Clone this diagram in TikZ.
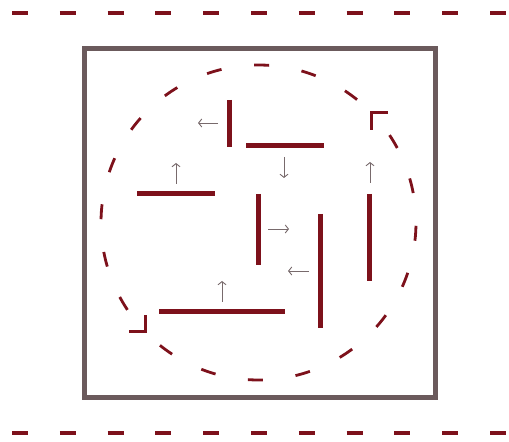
\documentclass[tikz,border=0pt]{standalone}
\usetikzlibrary{arrows.meta,calc}
\definecolor{wallred}{RGB}{125,17,27}
\definecolor{boxgray}{RGB}{107,90,92}
\definecolor{arrgray}{RGB}{120,106,108}
\begin{document}
\begin{tikzpicture}[x=1pt,y=1pt,
  wall/.style={draw=wallred,line width=5pt},
  border/.style={draw=wallred,line width=4.6pt,dash pattern=on 16pt off 31.8pt},
  circdash/.style={draw=wallred,line width=2.8pt},
  corner/.style={draw=wallred,line width=3pt,miter limit=10},
  flow/.style={draw=arrgray,line width=0.9pt,-{Straight Barb[length=3.2pt,width=8pt,line width=0.9pt]}},
  frame/.style={draw=boxgray,line width=5pt}]
\useasboundingbox (0,0) rectangle (509,442);
% dashed boundary lines
\draw[border] (12,429) -- (507,429);
\draw[border] (12,9) -- (507,9);
% frame
\draw[frame] (84.5,44) rectangle (435,393.5);
% dashed circle
\coordinate (c) at (258.5,219.5);
\foreach \a in {-126,-108.56,-91.12,-73.68,-56.24,-38.8,-21.36,-3.92,13.52,30.96,
                54,71.44,88.88,106.32,123.76,141.2,158.64,176.08,193.52,210.96}{
  \draw[circdash] ($(c)+(\a-2.73:157.5)$) arc[start angle=\a-2.73,end angle=\a+2.73,radius=157.5];
}
% arrow-corner marks on the circle
\coordinate (ur) at (371.5,329);
\coordinate (ll) at (145,110);
\draw[corner] (388,329) -- (ur) -- (371.5,312);
\draw[corner] (129,110) -- (ll) -- (145,127);
% walls
\draw[wall] (229,342) -- (229,295);
\draw[wall] (246,296) -- (324,296);
\draw[wall] (137,248) -- (215,248);
\draw[wall] (258,248) -- (258,177);
\draw[wall] (369,248) -- (369,161);
\draw[wall] (320,228) -- (320,114);
\draw[wall] (159,130) -- (285,130);
% flow arrows
\draw[flow] (218,319) -- (198,319);
\draw[flow] (176,258) -- (176,279);
\draw[flow] (284,285) -- (284,264);
\draw[flow] (370,259) -- (370,280);
\draw[flow] (268,213) -- (289,213);
\draw[flow] (309,171) -- (288,171);
\draw[flow] (222,140) -- (222,161);
\end{tikzpicture}
\end{document}
